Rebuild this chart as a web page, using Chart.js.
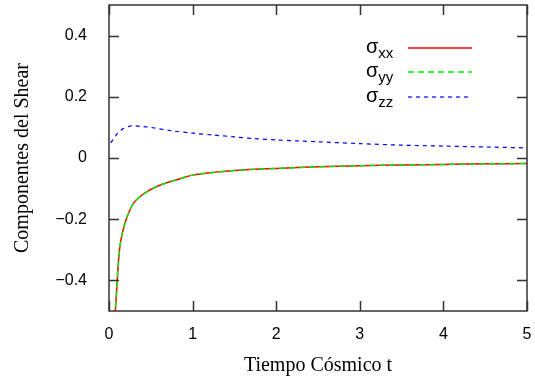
<!DOCTYPE html>
<html>
<head>
<meta charset="utf-8">
<script src="https://cdn.jsdelivr.net/npm/chart.js@4"></script>
<style>
  html, body { margin: 0; padding: 0; background: #fff; }
  #wrap { width: 535px; height: 383px; position: relative; }
</style>
</head>
<body>
<div id="wrap"><canvas id="shearChart"></canvas></div>
<script>
// valores
const tShear = [0.07, 0.09, 0.11, 0.13, 0.16, 0.2, 0.25, 0.3, 0.4, 0.5, 0.6, 0.7, 0.85, 1.0, 1.25, 1.5, 1.75, 2.0, 2.5, 3.0, 3.5, 4.0, 4.5, 5.0];
const sigmaXX = [-0.52, -0.44, -0.35, -0.29, -0.245, -0.205, -0.17, -0.145, -0.12, -0.103, -0.09, -0.08, -0.068, -0.056, -0.047, -0.041, -0.037, -0.034, -0.029, -0.025, -0.023, -0.021, -0.019, -0.018];
const sigmaYY = [-0.52, -0.44, -0.35, -0.29, -0.245, -0.205, -0.17, -0.145, -0.12, -0.103, -0.09, -0.08, -0.068, -0.056, -0.047, -0.041, -0.037, -0.034, -0.029, -0.025, -0.023, -0.021, -0.019, -0.018];
const tZZ = [0.02, 0.05, 0.1, 0.17, 0.27, 0.4, 0.5, 0.75, 1.0, 1.25, 1.5, 1.75, 2.0, 2.25, 2.5, 3.0, 3.5, 4.0, 4.5, 5.0];
const sigmaZZ = [0.05, 0.06, 0.08, 0.096, 0.105, 0.103, 0.1, 0.089, 0.081, 0.075, 0.069, 0.063, 0.059, 0.056, 0.053, 0.047, 0.042, 0.039, 0.036, 0.033];

const xTicks = [0, 1, 2, 3, 4, 5];
const yTicks = [-0.4, -0.2, 0, 0.2, 0.4];

const seriesNames = [['σ', 'xx'], ['σ', 'yy'], ['σ', 'zz']];

const toPoints = (xs, ys) => xs.map((x, i) => ({ x, y: ys[i] }));

// marco, ticks hacia dentro, titulos y leyenda al estilo gnuplot
const gnuplotFrame = {
    id: 'gnuplotFrame',
    afterDraw(chart) {
        const { ctx, chartArea: a, scales: { x, y } } = chart;
        const tl = 10;
        ctx.save();
        ctx.strokeStyle = '#333';
        ctx.lineWidth = 1.5;
        ctx.strokeRect(a.left, a.top, a.right - a.left, a.bottom - a.top);
        ctx.beginPath();
        yTicks.forEach(v => {
            const py = Math.round(y.getPixelForValue(v)) + 0.5;
            ctx.moveTo(a.left, py); ctx.lineTo(a.left + tl, py);
            ctx.moveTo(a.right, py); ctx.lineTo(a.right - tl, py);
        });
        xTicks.forEach(v => {
            const px = Math.round(x.getPixelForValue(v)) + 0.5;
            ctx.moveTo(px, a.bottom); ctx.lineTo(px, a.bottom - tl);
            ctx.moveTo(px, a.top); ctx.lineTo(px, a.top + tl);
        });
        ctx.stroke();

        // titulos de ejes
        ctx.fillStyle = '#000';
        ctx.font = '20px "Liberation Serif", serif';
        ctx.textAlign = 'center';
        ctx.textBaseline = 'alphabetic';
        ctx.fillText('Tiempo Cósmico t', 318, 371);
        ctx.save();
        ctx.translate(28, 158);
        ctx.rotate(-Math.PI / 2);
        ctx.fillText('Componentes del Shear', 0, 0);
        ctx.restore();

        // leyenda
        const rows = [48, 72, 97];
        chart.data.datasets.forEach((ds, i) => {
            const ry = rows[i];
            ctx.textAlign = 'left';
            ctx.textBaseline = 'alphabetic';
            ctx.font = '20px "Liberation Sans", sans-serif';
            ctx.fillText(seriesNames[i][0], 366, ry + 5);
            const w = ctx.measureText(seriesNames[i][0]).width;
            ctx.font = '15px "Liberation Sans", sans-serif';
            ctx.fillText(seriesNames[i][1], 366 + w, ry + 10);
            ctx.strokeStyle = ds.borderColor;
            ctx.lineWidth = ds.borderWidth;
            ctx.setLineDash(ds.borderDash || []);
            ctx.beginPath();
            ctx.moveTo(408, ry); ctx.lineTo(472, ry);
            ctx.stroke();
            ctx.setLineDash([]);
        });
        ctx.restore();
    }
};

new Chart(document.getElementById('shearChart'), {
    type: 'scatter',
    data: {
        datasets: [
            {
                label: 'σxx',
                data: toPoints(tShear, sigmaXX),
                borderColor: '#ff0000',
                borderWidth: 1.5,
                showLine: true,
                pointRadius: 0,
                tension: 0.3,
                order: 3
            },
            {
                label: 'σyy',
                data: toPoints(tShear, sigmaYY),
                borderColor: '#00ee00',
                borderWidth: 1.5,
                borderDash: [6, 4],
                showLine: true,
                pointRadius: 0,
                tension: 0.3,
                order: 2
            },
            {
                label: 'σzz',
                data: toPoints(tZZ, sigmaZZ),
                borderColor: '#0000ff',
                borderWidth: 1.2,
                borderDash: [4, 4],
                showLine: true,
                pointRadius: 0,
                tension: 0.3,
                order: 1
            }
        ]
    },
    options: {
        responsive: true,
        maintainAspectRatio: false,
        animation: false,
        layout: { padding: { left: 0, right: 8, top: 5, bottom: 0 } },
        plugins: {
            legend: { display: false },
            tooltip: { enabled: false }
        },
        scales: {
            x: {
                type: 'linear',
                min: 0,
                max: 5,
                afterBuildTicks: s => { s.ticks = xTicks.map(value => ({ value })); },
                afterFit: s => { s.height = 72; s.paddingLeft = 0; s.paddingRight = 0; },
                grid: { display: false },
                border: { display: false },
                ticks: {
                    padding: 6,
                    maxRotation: 0,
                    color: '#000',
                    font: { family: '"Liberation Sans", sans-serif', size: 16 },
                    callback: v => String(v)
                }
            },
            y: {
                type: 'linear',
                min: -0.5,
                max: 0.5,
                afterBuildTicks: s => { s.ticks = yTicks.map(value => ({ value })); },
                afterFit: s => { s.width = 109; s.paddingTop = 0; s.paddingBottom = 0; },
                grid: { display: false },
                border: { display: false },
                ticks: {
                    padding: 14,
                    color: '#000',
                    font: { family: '"Liberation Sans", sans-serif', size: 16 },
                    callback: v => v === 0 ? '0' : v.toFixed(1).replace('-', '\u2212')
                }
            }
        }
    },
    plugins: [gnuplotFrame]
});
</script>
</body>
</html>
